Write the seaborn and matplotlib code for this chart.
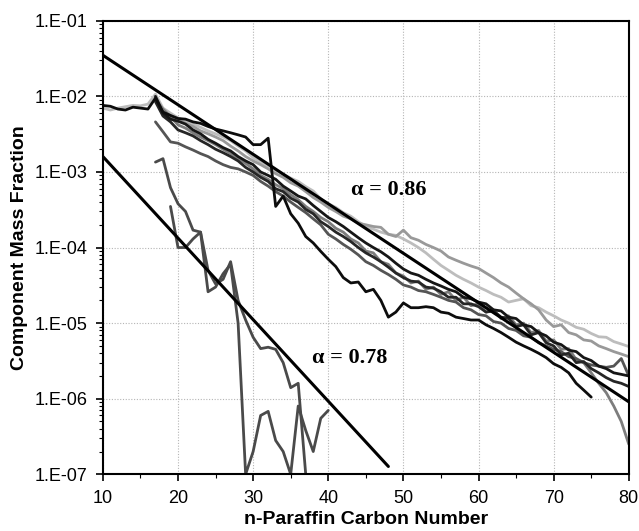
import numpy as np
import pandas as pd
import matplotlib
matplotlib.use("Agg")
import matplotlib.pyplot as plt
from matplotlib.ticker import FixedLocator, LogLocator, MultipleLocator, NullFormatter
import seaborn as sns

# ---- measured n-paraffin distributions (component mass fraction vs carbon number) ----
k1_carbon = list(range(10, 76))
k1_frac = [7.6e-3, 7.4e-3, 6.8e-3, 6.6e-3, 7.2e-3, 7.0e-3, 6.8e-3, 9.5e-3, 6.2e-3, 5.6e-3, 5.1e-3,
           5.0e-3, 4.6e-3, 4.4e-3, 4.0e-3, 3.7e-3, 3.5e-3, 3.3e-3, 3.1e-3, 2.9e-3, 2.3e-3,
           2.3e-3, 2.8e-3, 3.5e-4, 4.8e-4, 2.8e-4, 2.1e-4, 1.4e-4, 1.15e-4, 8.9e-5, 7.0e-5,
           5.6e-5, 4.0e-5, 3.4e-5, 3.5e-5, 2.6e-5, 2.8e-5, 2.0e-5, 1.2e-5, 1.4e-5, 1.85e-5,
           1.6e-5, 1.6e-5, 1.65e-5, 1.6e-5, 1.4e-5, 1.35e-5, 1.2e-5, 1.15e-5, 1.1e-5, 1.1e-5,
           9.5e-6, 8.5e-6, 7.5e-6, 6.5e-6, 5.6e-6, 5.0e-6, 4.5e-6, 4.0e-6, 3.5e-6, 2.9e-6,
           2.6e-6, 2.2e-6, 1.6e-6, 1.3e-6, 1.05e-6]

lg_carbon = list(range(10, 81))
lg_frac = [7.0e-3, 6.6e-3, 7.0e-3, 7.3e-3, 7.6e-3, 7.5e-3, 7.9e-3, 1.07e-2, 7.0e-3, 6.0e-3, 5.2e-3,
           4.7e-3, 4.3e-3, 3.9e-3, 3.5e-3, 3.2e-3, 2.9e-3, 2.6e-3, 2.2e-3, 1.9e-3, 1.55e-3,
           1.35e-3, 1.2e-3, 1.05e-3, 9.3e-4, 8.3e-4, 7.5e-4, 6.4e-4, 5.6e-4, 4.4e-4, 3.8e-4,
           3.4e-4, 2.9e-4, 2.6e-4, 2.2e-4, 1.9e-4, 1.75e-4, 1.6e-4, 1.5e-4, 1.45e-4, 1.3e-4,
           1.15e-4, 1.0e-4, 8.5e-5, 7.0e-5, 5.8e-5, 5.0e-5, 4.3e-5, 3.8e-5, 3.4e-5, 3.0e-5,
           2.7e-5, 2.4e-5, 2.2e-5, 1.9e-5, 2.0e-5, 2.1e-5, 1.7e-5, 1.6e-5, 1.4e-5, 1.25e-5,
           1.1e-5, 1.0e-5, 8.8e-6, 8.3e-6, 7.3e-6, 6.6e-6, 6.5e-6, 5.7e-6, 5.3e-6, 4.9e-6]

mg_carbon = list(range(17, 81))
mg_frac = [1.0e-2, 6.5e-3, 5.5e-3, 4.9e-3, 4.4e-3, 4.0e-3, 3.5e-3, 3.2e-3, 2.9e-3, 2.6e-3,
           2.2e-3, 1.9e-3, 1.6e-3, 1.4e-3, 1.25e-3, 1.1e-3, 9.5e-4, 8.5e-4, 7.2e-4, 6.5e-4,
           5.5e-4, 4.6e-4, 4.0e-4, 3.4e-4, 3.0e-4, 2.6e-4, 2.4e-4, 2.1e-4, 2.0e-4, 1.9e-4,
           1.85e-4, 1.5e-4, 1.4e-4, 1.7e-4, 1.35e-4, 1.25e-4, 1.1e-4, 1.0e-4, 9.0e-5, 7.5e-5,
           6.8e-5, 6.2e-5, 5.7e-5, 5.3e-5, 4.6e-5, 4.0e-5, 3.4e-5, 3.0e-5, 2.5e-5, 2.1e-5,
           1.8e-5, 1.5e-5, 1.1e-5, 9.0e-6, 9.5e-6, 7.5e-6, 7.0e-6, 6.0e-6, 5.8e-6, 5.0e-6,
           4.6e-6, 4.2e-6, 3.9e-6, 3.6e-6]

k3_carbon = list(range(17, 81))
k3_frac = [1.0e-2, 6.0e-3, 5.0e-3, 4.7e-3, 4.3e-3, 3.6e-3, 3.2e-3, 2.7e-3, 2.4e-3, 2.1e-3,
           1.9e-3, 1.6e-3, 1.4e-3, 1.25e-3, 1.0e-3, 9.0e-4, 8.0e-4, 6.5e-4, 5.6e-4, 4.8e-4,
           4.4e-4, 3.6e-4, 3.0e-4, 2.5e-4, 2.2e-4, 1.9e-4, 1.6e-4, 1.35e-4, 1.15e-4, 1.0e-4,
           8.8e-5, 7.5e-5, 6.2e-5, 5.2e-5, 4.6e-5, 4.3e-5, 3.8e-5, 3.4e-5, 3.1e-5, 2.8e-5,
           2.6e-5, 2.2e-5, 2.1e-5, 1.9e-5, 1.8e-5, 1.5e-5, 1.45e-5, 1.2e-5, 1.15e-5, 9.5e-6,
           9.0e-6, 7.5e-6, 6.8e-6, 5.6e-6, 5.2e-6, 4.4e-6, 4.2e-6, 3.5e-6, 3.2e-6, 2.7e-6,
           2.5e-6, 2.2e-6, 2.1e-6, 2.0e-6]

k4_carbon = list(range(17, 81))
k4_frac = [8.5e-3, 5.5e-3, 4.6e-3, 3.6e-3, 3.3e-3, 3.0e-3, 2.6e-3, 2.3e-3, 2.0e-3, 1.8e-3,
           1.6e-3, 1.4e-3, 1.15e-3, 1.0e-3, 8.5e-4, 7.5e-4, 6.0e-4, 5.5e-4, 4.5e-4, 4.0e-4,
           3.2e-4, 2.8e-4, 2.2e-4, 1.9e-4, 1.6e-4, 1.4e-4, 1.2e-4, 1.0e-4, 8.5e-5, 7.5e-5,
           6.5e-5, 5.5e-5, 4.6e-5, 4.0e-5, 3.6e-5, 3.5e-5, 3.0e-5, 2.9e-5, 2.6e-5, 2.2e-5,
           2.2e-5, 1.8e-5, 1.8e-5, 1.65e-5, 1.4e-5, 1.45e-5, 1.2e-5, 1.15e-5, 9.0e-6, 9.5e-6,
           7.0e-6, 7.5e-6, 5.5e-6, 5.0e-6, 3.8e-6, 4.0e-6, 3.0e-6, 3.1e-6, 2.5e-6, 2.2e-6,
           1.9e-6, 1.7e-6, 1.6e-6, 1.45e-6]

g2_carbon = list(range(17, 81))
g2_frac = [9.0e-3, 6.8e-3, 5.4e-3, 4.2e-3, 3.8e-3, 3.3e-3, 2.9e-3, 2.6e-3, 2.3e-3, 2.0e-3,
           1.75e-3, 1.5e-3, 1.3e-3, 1.1e-3, 9.0e-4, 8.0e-4, 6.8e-4, 6.0e-4, 5.0e-4, 4.3e-4,
           3.5e-4, 3.0e-4, 2.5e-4, 2.2e-4, 1.8e-4, 1.6e-4, 1.3e-4, 1.15e-4, 9.0e-5, 8.5e-5,
           6.5e-5, 6.0e-5, 4.6e-5, 4.2e-5, 3.4e-5, 3.6e-5, 2.8e-5, 3.0e-5, 2.4e-5, 2.6e-5,
           2.0e-5, 2.2e-5, 1.7e-5, 1.8e-5, 1.4e-5, 1.5e-5, 1.15e-5, 1.25e-5, 9.5e-6, 1.0e-5,
           7.5e-6, 8.0e-6, 5.8e-6, 6.0e-6, 4.5e-6, 4.6e-6, 3.3e-6, 3.0e-6, 2.2e-6, 1.6e-6,
           1.2e-6, 8.0e-7, 5.0e-7, 2.5e-7]

gd_carbon = list(range(17, 81))
gd_frac = [4.6e-3, 3.4e-3, 2.5e-3, 2.4e-3, 2.15e-3, 1.95e-3, 1.75e-3, 1.6e-3, 1.4e-3, 1.25e-3,
           1.15e-3, 1.1e-3, 1.0e-3, 9.0e-4, 7.5e-4, 6.5e-4, 5.5e-4, 4.8e-4, 4.0e-4, 3.4e-4,
           2.9e-4, 2.4e-4, 2.0e-4, 1.5e-4, 1.3e-4, 1.1e-4, 9.5e-5, 8.0e-5, 6.5e-5, 5.8e-5,
           5.0e-5, 4.4e-5, 3.8e-5, 3.2e-5, 3.0e-5, 2.7e-5, 2.6e-5, 2.4e-5, 2.2e-5, 2.0e-5,
           1.9e-5, 1.6e-5, 1.5e-5, 1.3e-5, 1.25e-5, 1.05e-5, 1.0e-5, 8.5e-6, 8.0e-6, 6.8e-6,
           6.5e-6, 5.5e-6, 5.0e-6, 4.5e-6, 4.2e-6, 3.6e-6, 3.4e-6, 3.0e-6, 2.8e-6, 2.7e-6,
           2.6e-6, 2.7e-6, 3.4e-6, 2.0e-6]

# light samples (fall to the detection floor at the axis minimum)
p_carbon = list(range(17, 38))
p_frac = [1.35e-3, 1.5e-3, 6.2e-4, 3.8e-4, 3.0e-4, 1.7e-4, 1.6e-4, 5.0e-5, 3.3e-5, 3.8e-5,
          6.5e-5, 2.0e-5, 1.1e-5, 6.5e-6, 4.6e-6, 4.8e-6, 4.5e-6, 3.0e-6, 1.4e-6, 1.6e-6,
          1.0e-7]

q_carbon = list(range(19, 41))
q_frac = [3.5e-4, 1.0e-4, 1.0e-4, 1.3e-4, 1.6e-4, 2.6e-5, 3.0e-5, 4.5e-5, 6.0e-5, 1.0e-5,
          1.0e-7, 2.0e-7, 6.0e-7, 6.8e-7, 2.8e-7, 2.0e-7, 1.0e-7, 8.0e-7, 3.8e-7, 2.0e-7,
          5.5e-7, 7.0e-7]

# Anderson-Schulz-Flory reference lines: w(n) = w(n0) * alpha**(n - n0)
asf_alpha_high = 0.86
asf_high_start = 3.5e-2
asf_high_range = (10, 80)
asf_alpha_low = 0.78
asf_low_start = 1.6e-3
asf_low_range = (10, 48)

y_ticks = [1e-7, 1e-6, 1e-5, 1e-4, 1e-3, 1e-2, 1e-1]
y_tick_labels = ["1.E-07", "1.E-06", "1.E-05", "1.E-04", "1.E-03", "1.E-02", "1.E-01"]
x_ticks = [10, 20, 30, 40, 50, 60, 70, 80]

# ---- figure ----
sns.set_style("white")
plt.rcParams["font.family"] = ["Liberation Sans", "DejaVu Sans"]
plt.rcParams["text.color"] = "black"
plt.rcParams["axes.labelcolor"] = "black"
plt.rcParams["xtick.color"] = "black"
plt.rcParams["ytick.color"] = "black"

fig = plt.figure(figsize=(6.39, 5.31), dpi=100)
ax = fig.add_axes([0.161, 0.1068, 0.823, 0.854])

series = [
    (lg_carbon, lg_frac, "#bdbdbd", 2.0),
    (mg_carbon, mg_frac, "#999999", 2.0),
    (g2_carbon, g2_frac, "#7d7d7d", 2.0),
    (gd_carbon, gd_frac, "#555555", 2.0),
    (k4_carbon, k4_frac, "#262626", 2.0),
    (k3_carbon, k3_frac, "#161616", 2.0),
    (k1_carbon, k1_frac, "#0d0d0d", 2.0),
    (p_carbon, p_frac, "#4a4a4a", 2.0),
    (q_carbon, q_frac, "#4a4a4a", 2.0),
]
for xs, ys, col, lw in series:
    df = pd.DataFrame({"carbon": xs, "fraction": ys})
    sns.lineplot(data=df, x="carbon", y="fraction", color=col, linewidth=lw,
                 ax=ax, legend=False)

for alpha, w0, (n0, n1) in [(asf_alpha_high, asf_high_start, asf_high_range),
                            (asf_alpha_low, asf_low_start, asf_low_range)]:
    n = np.array([n0, n1], dtype=float)
    w = w0 * alpha ** (n - n0)
    sns.lineplot(x=n, y=w, color="black", linewidth=2.2, ax=ax, legend=False)

ax.set_yscale("log")
ax.set_xlim(10, 80)
ax.set_ylim(1e-7, 1e-1)

ax.xaxis.set_major_locator(FixedLocator(x_ticks))
ax.xaxis.set_minor_locator(MultipleLocator(5))
ax.yaxis.set_major_locator(FixedLocator(y_ticks))
ax.set_yticklabels(y_tick_labels)
ax.yaxis.set_minor_locator(LogLocator(base=10, subs=np.arange(2, 10)))
ax.yaxis.set_minor_formatter(NullFormatter())

ax.tick_params(axis="both", which="major", direction="out", length=5, width=1.2,
               labelsize=13, pad=6, bottom=True, left=True, colors="black")
ax.tick_params(axis="both", which="minor", direction="out", length=3, width=0.8,
               bottom=True, left=True, colors="black")

ax.grid(True, which="major", linestyle=(0, (1, 1.5)), color="#b5b5b5", linewidth=0.8)
ax.set_axisbelow(True)
for s in ax.spines.values():
    s.set_visible(True)
    s.set_color("black")
    s.set_linewidth(1.5)

ax.set_xlabel("n-Paraffin Carbon Number", fontsize=14, fontweight="bold", labelpad=3)
ax.set_ylabel("Component Mass Fraction", fontsize=14, fontweight="bold", labelpad=5)

ax.text(48.0, 5.75e-4, "\u03b1 = 0.86", ha="center", va="center", fontsize=16,
        fontweight="bold", family=["Liberation Serif", "DejaVu Serif"])
ax.text(42.8, 3.5e-6, "\u03b1 = 0.78", ha="center", va="center", fontsize=16,
        fontweight="bold", family=["Liberation Serif", "DejaVu Serif"])

fig.savefig("out.png", dpi=100, facecolor="white")
